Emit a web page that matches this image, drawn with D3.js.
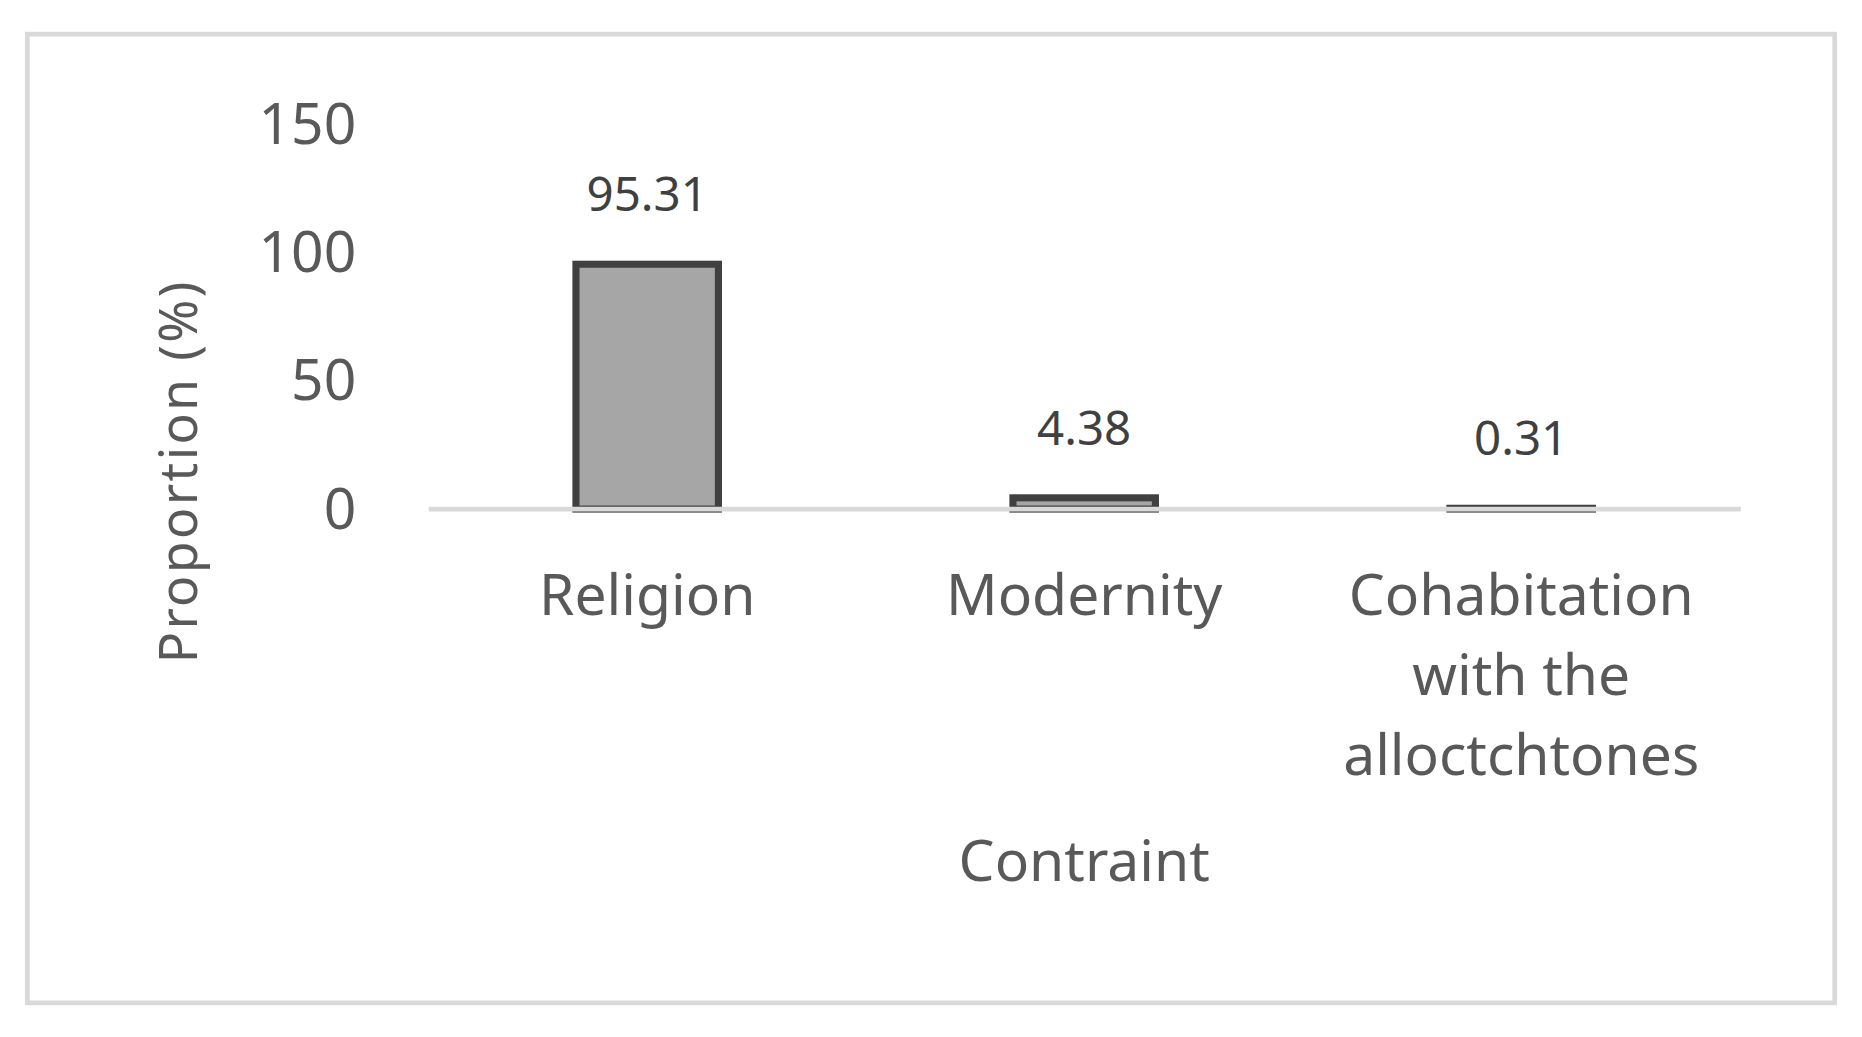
<!DOCTYPE html>
<html><head><meta charset="utf-8">
<script src="https://cdn.jsdelivr.net/npm/d3@7"></script>
<style>body{margin:0;background:#fff}svg{display:block}text{font-family:"Noto Sans",sans-serif}</style>
</head><body>
<script>
const categories = [["Religion"],["Modernity"],["Cohabitation","with the","alloctchtones"]];
const values = [95.31, 4.38, 0.31];
const labels = ["95.31","4.38","0.31"];
const yTicks = [0,50,100,150];

const svg = d3.select("body").append("svg")
  .attr("width",1862).attr("height",1037)
  .attr("viewBox","0 0 1568 880").attr("preserveAspectRatio","none");
svg.append("rect").attr("x",0).attr("y",0).attr("width",1568).attr("height",880).attr("fill","#fff");
svg.append("rect").attr("x",23).attr("y",29).attr("width",1522).attr("height",822)
  .attr("fill","none").attr("stroke","#d9d9d9").attr("stroke-width",4);

const x = d3.scaleBand().domain(d3.range(values.length)).range([361,1465]).paddingInner(0.674).paddingOuter(0.337);
const y = d3.scaleLinear().domain([0,150]).range([432,105]);

svg.selectAll(".yt").data(yTicks).join("text")
  .attr("x",300).attr("y",d=>y(d)).attr("dy","0.35em").attr("text-anchor","end")
  .attr("font-size",48).attr("fill","#595959").text(d=>d);

svg.selectAll(".bar").data(values).join("rect")
  .attr("x",(d,i)=>x(i)).attr("width",x.bandwidth())
  .attr("y",d=>y(d)).attr("height",d=>y(0)-y(d))
  .attr("fill","#a6a6a6").attr("stroke","#404040").attr("stroke-width",6);

svg.append("line").attr("x1",361).attr("x2",1466).attr("y1",y(0)).attr("y2",y(0))
  .attr("stroke","#d9d9d9").attr("stroke-width",4);

svg.selectAll(".dl").data(values).join("text")
  .attr("x",(d,i)=>x(i)+x.bandwidth()/2).attr("y",(d,i)=>y(d)-45)
  .attr("text-anchor","middle").attr("font-size",40).attr("fill","#404040")
  .text((d,i)=>labels[i]);

categories.forEach((lines,i)=>{
  lines.forEach((t,j)=>{
    svg.append("text").attr("x",x(i)+x.bandwidth()/2).attr("y",522+j*68)
      .attr("text-anchor","middle").attr("font-size",48).attr("fill","#595959").text(t);
  });
});

svg.append("text").attr("x",913).attr("y",748).attr("text-anchor","middle")
  .attr("font-size",48).attr("fill","#595959").text("Contraint");
svg.append("text").attr("transform","translate(166,400) rotate(-90)").attr("text-anchor","middle")
  .attr("font-size",44).attr("fill","#595959").attr("letter-spacing",2).text("Proportion (%)");
</script>
</body></html>
